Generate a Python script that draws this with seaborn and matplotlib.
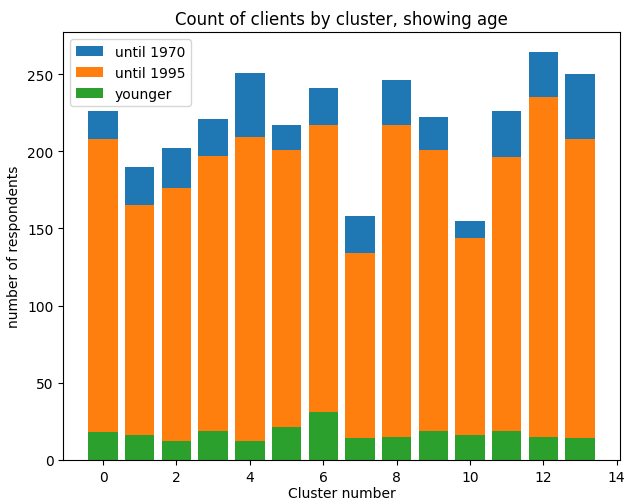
import numpy as np
import pandas as pd
import seaborn as sns
import matplotlib
matplotlib.use("Agg")
import matplotlib.pyplot as plt

# counts per cluster
clusters = list(range(14))
younger = [18, 16, 12, 19, 12, 21, 31, 14, 15, 19, 16, 19, 15, 14]
born_1970_1995 = [190, 149, 164, 178, 197, 180, 186, 120, 202, 182, 128, 177, 220, 194]
born_before_1970 = [18, 25, 26, 24, 42, 16, 24, 24, 29, 21, 11, 30, 29, 42]

df = pd.DataFrame({
    "cluster": clusters,
    "younger": younger,
    "until1995": born_1970_1995,
    "until1970": born_before_1970,
})
# cumulative heights, drawn on top of each other
df["cum_1995"] = df["younger"] + df["until1995"]
df["cum_1970"] = df["cum_1995"] + df["until1970"]

fig, ax = plt.subplots(figsize=(6.25, 5.02), dpi=100)
fig.subplots_adjust(left=0.101, right=0.992, top=0.934, bottom=0.082)

sns.barplot(data=df, x="cluster", y="cum_1970", native_scale=True, color="#1f77b4",
            saturation=1, errorbar=None, label="until 1970", ax=ax)
sns.barplot(data=df, x="cluster", y="cum_1995", native_scale=True, color="#ff7f0e",
            saturation=1, errorbar=None, label="until 1995", ax=ax)
sns.barplot(data=df, x="cluster", y="younger", native_scale=True, color="#2ca02c",
            saturation=1, errorbar=None, label="younger", ax=ax)

ax.set_title("Count of clients by cluster, showing age")
ax.set_xlabel("Cluster number", labelpad=2)
ax.set_ylabel("number of respondents")
ax.legend(loc="upper left")

plt.savefig("out.png", dpi=100)
